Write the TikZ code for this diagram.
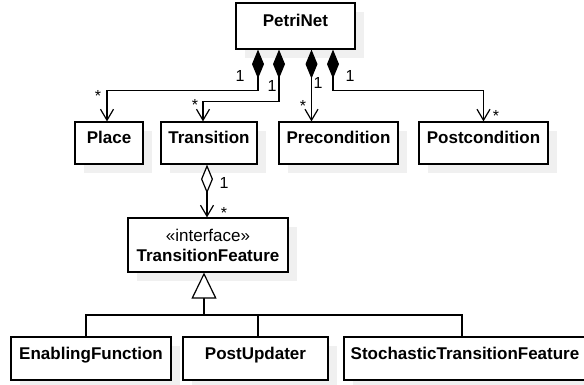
\documentclass[tikz,border=0pt]{standalone}
\usepackage{fontspec}
\setmainfont{Liberation Sans}
\usetikzlibrary{arrows.meta,shadows}

\begin{document}
\begin{tikzpicture}[x=1pt,y=-1pt,line width=1.2pt,
  cls/.style={draw,fill=white,inner sep=0pt,minimum width=#1,minimum height=42pt,
    text height=12pt,text depth=10pt,
    font=\fontsize{17}{20}\selectfont\bfseries,
    drop shadow={shadow xshift=9pt,shadow yshift=-9pt,fill=black!6,opacity=1}},
  mult/.style={inner sep=0pt,font=\fontsize{16}{16}\selectfont},
  comp/.style={{Diamond[width=12pt,length=29pt]}-{Straight Barb[width=13pt,length=11pt]}},
  agg/.style={{Diamond[open,fill=white,width=12pt,length=29pt]}-{Straight Barb[width=13pt,length=11pt]}},
  gen/.style={-{Triangle[open,fill=white,width=25pt,length=26pt]}}]
\useasboundingbox (0,0) rectangle (584,385);

\node[cls=119pt,minimum height=46pt] (petri) at (295.5,26) {PetriNet};
\node[cls=68pt] (place) at (109,143) {Place};
\node[cls=96pt] (trans) at (209,143) {Transition};
\node[cls=119pt] (pre) at (338.5,143) {Precondition};
\node[cls=129pt] (post) at (483.5,143) {Postcondition};
\node[cls=160pt,minimum height=54pt,text height=,text depth=,align=center] (feat) at (208,245) {{\mdseries «interface»}\\TransitionFeature};
\node[cls=160pt,minimum height=43pt] (enab) at (91,358.5) {EnablingFunction};
\node[cls=145pt,minimum height=43pt] (upd) at (255.5,358.5) {PostUpdater};
\node[cls=242pt,minimum height=43pt] (stoch) at (465,358.5) {StochasticTransitionFeature};

% composition
\draw[comp] ([xshift=-37.5pt]petri.south) -- ++(0,41) -| ([xshift=-2pt]place.north);
\draw[comp] ([xshift=-16.5pt]petri.south) -- ++(0,52) -| ([xshift=-6pt]trans.north);
\draw[comp] ([xshift=16pt]petri.south) -- ([xshift=16pt]petri.south |- pre.north);
\draw[comp] ([xshift=37.5pt]petri.south) -- ++(0,41) -| (post.north);

\node[mult] (one1) at (240,76) {1};
\node[mult] (one2) at (272,86) {1};
\node[mult] (one3) at (318,83) {1};
\node[mult] (one4) at (350,76) {1};
\node[mult] (many1) at (98,96) {*};
\node[mult] (many2) at (195,105) {*};
\node[mult] (many3) at (303,106) {*};
\node[mult] (many4) at (496,116) {*};

% aggregation
\draw[agg] ([xshift=-2pt]trans.south) -- ([xshift=-2pt]trans.south |- feat.north);
\node[mult] (one5) at (224,183) {1};
\node[mult] (many5) at (224,213) {*};

% generalization
\coordinate (join) at (204,315);
\draw[gen] (join) -- (join |- feat.south);
\draw ([xshift=-5pt]enab.north) |- (join);
\draw ([xshift=-3pt]stoch.north) |- (join);
\draw ([xshift=2.5pt]upd.north) -- ([xshift=2.5pt]upd.north |- join);
%\draw[red] (0,0) grid[step=50] (584,385);

\end{tikzpicture}
\end{document}
